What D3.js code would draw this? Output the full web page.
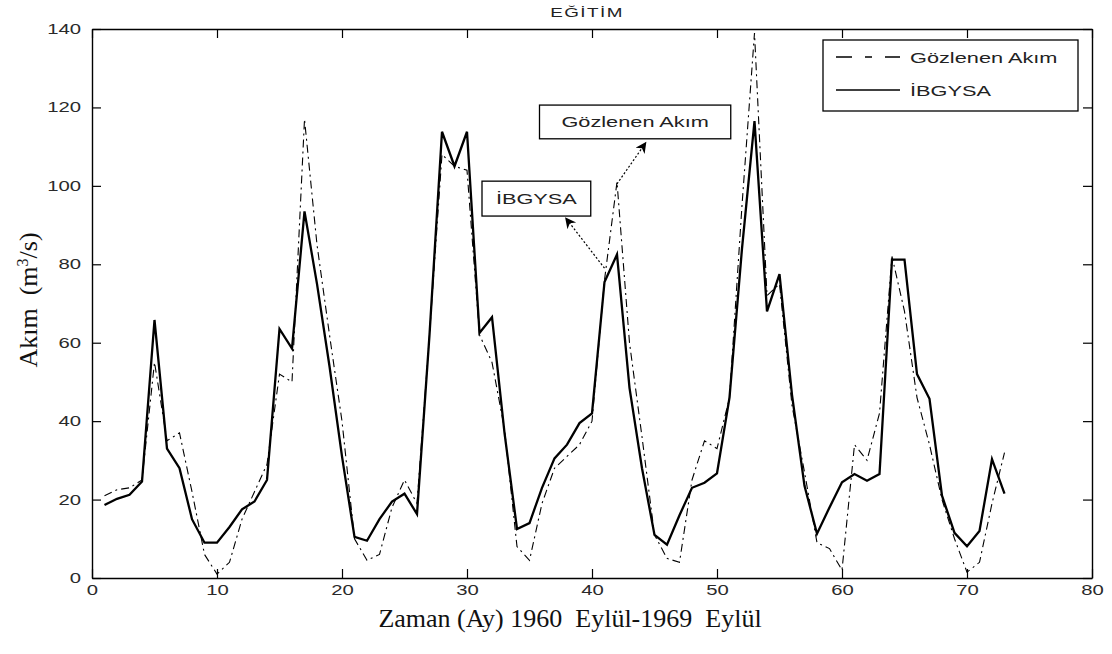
<!DOCTYPE html>
<html>
<head>
<meta charset="utf-8">
<script src="https://cdn.jsdelivr.net/npm/d3@7"></script>
<style>
  html, body { margin: 0; padding: 0; background: #fff; }
  svg { display: block; }
</style>
</head>
<body>
<svg id="chart" width="1112" height="654"></svg>
<script>
// ---------------- DATA ----------------
const months = [1,2,3,4,5,6,7,8,9,10,11,12,13,14,15,16,17,18,19,20,21,22,23,24,25,26,27,28,29,30,
  31,32,33,34,35,36,37,38,39,40,41,42,43,44,45,46,47,48,49,50,51,52,53,54,55,56,57,58,59,60,
  61,62,63,64,65,66,67,68,69,70,71,72,73];

// Gözlenen Akım (observed, dash-dot)
const observed = [21,22.5,23,25,55,35,37,22,6,1,4,15,22,29,52,50,117,85,62,40,
  10,4.5,6,18,25,19,62,108,105,104,62,55,38,8,4.5,19,28,31,34,40,
  76,101,60,36,11,5,4,25,35,33,46,95,139,72,75,44,27,9,7.5,2,
  34,30,42,82,68,46,34,20,10,1.5,4,19,32];

// İBGYSA (model, solid)
const ibgysa = [18.6,20.2,21.2,24.6,65.8,33,28,15,9,9,13,17.5,19.5,25,63.5,58.5,93.5,75,54,31,
  10.5,9.5,15,19.5,21.5,16.3,62,113.8,105,113.8,62.5,66.5,37,12.5,14,23,30.5,34,39.5,42,
  75.5,82.5,48.5,28,11,8.5,16,23,24.3,26.7,46,84,116.5,68,77.5,46.7,23.5,11.3,18,24.4,
  26.5,24.8,26.5,81.2,81.2,52,45.7,21,11.5,8.1,12,30.3,21.5];

const xTicks = [0,10,20,30,40,50,60,70,80];
const yTicks = [0,20,40,60,80,100,120,140];

const titleText = "EĞİTİM";
const xLabel = "Zaman (Ay) 1960  Eylül-1969  Eylül";
const seriesNames = ["Gözlenen Akım", "İBGYSA"];

// annotations: label, arrow start (x,y), arrow tip (x,y), box corners (x0,y0,x1,y1) in data units
const annObserved = { label: "Gözlenen Akım", from: [42, 100.5], to: [44.3, 111], box: [35.8, 120.6, 51.1, 112] };
const annModel    = { label: "İBGYSA",        from: [41, 79],    to: [37.9, 91.8], box: [31.2, 101.2, 39.9, 92.3] };

// ---------------- LAYOUT ----------------
const L = 92, R = 1092, T = 29, B = 578;
const SX = 1.45; // horizontal stretch of the sans texts in the reference
const sansFont = "'Liberation Sans', Arial, sans-serif";
const serifFont = "'Liberation Serif', 'Times New Roman', serif";

const svg = d3.select("#chart");
const x = d3.scaleLinear().domain([0, 80]).range([L, R]);
const y = d3.scaleLinear().domain([0, 140]).range([B, T]);

function stretchedText(parent, px, py, txt, size, anchor) {
  return parent.append("text")
    .attr("transform", `translate(${px},${py}) scale(${SX},1)`)
    .attr("text-anchor", anchor || "start")
    .style("font-family", sansFont)
    .style("font-size", size + "px")
    .attr("fill", "#222")
    .text(txt);
}

// ---------------- AXES ----------------
function styleAxis(g) {
  g.select(".domain").attr("stroke", "#000").attr("stroke-width", 1.4);
  g.selectAll(".tick line").attr("stroke", "#000").attr("stroke-width", 1.2);
}
function stretchLabels(g) {
  g.selectAll(".tick text").each(function() {
    const t = d3.select(this);
    const tx = +t.attr("x") || 0;
    const ty = +t.attr("y") || 0;
    t.attr("transform", `translate(${tx},${ty}) scale(${SX},1)`).attr("x", 0).attr("y", 0)
     .style("font-family", sansFont).style("font-size", "14px").attr("fill", "#2a2a2a");
  });
}

const gBottom = svg.append("g").attr("transform", `translate(0,${B})`)
  .call(d3.axisBottom(x).tickValues(xTicks).tickSizeInner(-9).tickSizeOuter(0).tickPadding(7));
styleAxis(gBottom); stretchLabels(gBottom);

const gLeft = svg.append("g").attr("transform", `translate(${L},0)`)
  .call(d3.axisLeft(y).tickValues(yTicks).tickSizeInner(-9).tickSizeOuter(0).tickPadding(11));
styleAxis(gLeft); stretchLabels(gLeft);

const gTop = svg.append("g").attr("transform", `translate(0,${T})`)
  .call(d3.axisTop(x).tickValues(xTicks).tickSizeInner(-9).tickSizeOuter(0).tickFormat(""));
styleAxis(gTop);

const gRight = svg.append("g").attr("transform", `translate(${R},0)`)
  .call(d3.axisRight(y).tickValues(yTicks).tickSizeInner(-9).tickSizeOuter(0).tickFormat(""));
styleAxis(gRight);

// ---------------- LINES ----------------
const lineGen = d3.line().x(d => x(d[0])).y(d => y(d[1]));

svg.append("path")
  .datum(months.map((m, i) => [m, observed[i]]))
  .attr("d", lineGen)
  .attr("fill", "none").attr("stroke", "#000").attr("stroke-width", 1.1)
  .attr("stroke-dasharray", "8,4,2,4");

svg.append("path")
  .datum(months.map((m, i) => [m, ibgysa[i]]))
  .attr("d", lineGen)
  .attr("fill", "none").attr("stroke", "#000").attr("stroke-width", 2.3)
  .attr("stroke-linejoin", "miter");

// ---------------- TITLE & AXIS LABELS ----------------
stretchedText(svg, 587, 17, titleText, 13, "middle").style("letter-spacing", "1px");

svg.append("text")
  .attr("x", 570).attr("y", 627)
  .attr("text-anchor", "middle")
  .style("font-family", serifFont).style("font-size", "26px")
  .style("white-space", "pre")
  .attr("fill", "#111")
  .text(xLabel);

const yl = svg.append("text")
  .attr("transform", "translate(37,300) rotate(-90)")
  .attr("text-anchor", "middle")
  .style("font-family", serifFont).style("font-size", "26px")
  .style("white-space", "pre")
  .attr("fill", "#111");
yl.append("tspan").text("Akım  (m");
yl.append("tspan").attr("dy", -9).style("font-size", "16px").text("3");
yl.append("tspan").attr("dy", 9).text("/s)");

// ---------------- ANNOTATIONS ----------------
const defs = svg.append("defs");
defs.append("marker").attr("id", "ah")
  .attr("viewBox", "0 0 10 10").attr("refX", 9).attr("refY", 5)
  .attr("markerWidth", 14).attr("markerHeight", 11).attr("markerUnits", "userSpaceOnUse")
  .attr("orient", "auto")
  .append("path").attr("d", "M0,0 L10,5 L0,10 L3,5 Z").attr("fill", "#000");

[annObserved, annModel].forEach(a => {
  svg.append("line")
    .attr("x1", x(a.from[0])).attr("y1", y(a.from[1]))
    .attr("x2", x(a.to[0])).attr("y2", y(a.to[1]))
    .attr("stroke", "#000").attr("stroke-width", 1.2)
    .attr("stroke-dasharray", "2,2")
    .attr("marker-end", "url(#ah)");
  const bx0 = x(a.box[0]), by0 = y(a.box[1]), bx1 = x(a.box[2]), by1 = y(a.box[3]);
  svg.append("rect")
    .attr("x", bx0).attr("y", by0).attr("width", bx1 - bx0).attr("height", by1 - by0)
    .attr("fill", "#fff").attr("stroke", "#000").attr("stroke-width", 1.3);
  stretchedText(svg, (bx0 + bx1) / 2, (by0 + by1) / 2 + 5.5, a.label, 15, "middle");
});

// ---------------- LEGEND ----------------
const lg = svg.append("g");
lg.append("rect").attr("x", 823).attr("y", 40).attr("width", 255).attr("height", 71)
  .attr("fill", "#fff").attr("stroke", "#000").attr("stroke-width", 1.3);
lg.append("line").attr("x1", 836).attr("x2", 900).attr("y1", 57).attr("y2", 57)
  .attr("stroke", "#000").attr("stroke-width", 1.3).attr("stroke-dasharray", "16,13,7,13");
lg.append("line").attr("x1", 836).attr("x2", 900).attr("y1", 90).attr("y2", 90)
  .attr("stroke", "#000").attr("stroke-width", 1.5);
stretchedText(lg, 910, 63, seriesNames[0], 15, "start");
stretchedText(lg, 910, 96, seriesNames[1], 15, "start");
</script>
</body>
</html>
